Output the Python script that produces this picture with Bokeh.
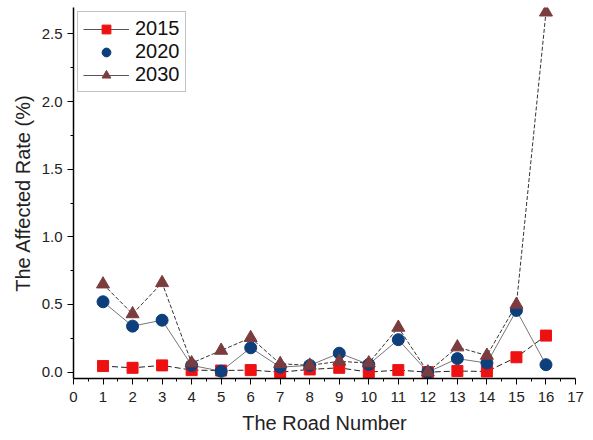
from bokeh.plotting import figure
from bokeh.models import ColumnDataSource, Legend, LegendItem, FixedTicker, Range1d, PrintfTickFormatter
from bokeh.embed import file_html
from bokeh.resources import INLINE

roads = list(range(1, 17))
rate_2015 = [0.045, 0.032, 0.05, 0.015, 0.012, 0.015, 0.0, 0.02, 0.032, 0.0, 0.015, 0.0, 0.008, 0.005, 0.11, 0.27]
rate_2020 = [0.52, 0.34, 0.384, 0.05, 0.007, 0.18, 0.037, 0.05, 0.14, 0.057, 0.24, 0.0, 0.10, 0.067, 0.456, 0.055]
rate_2030 = [0.65, 0.43, 0.66, 0.067, 0.16, 0.254, 0.062, 0.05, 0.08, 0.067, 0.33, 0.0, 0.185, 0.123, 0.50, 2.66]
x_ticks = list(range(0, 18))
y_ticks = [0.0, 0.5, 1.0, 1.5, 2.0, 2.5]

FONT = "Liberation Sans"
RED = "#ee1111"
BLUE = "#0d3f7c"
BROWN = "#7b3c3e"

p = figure(width=593, height=440, output_backend="svg", toolbar_location=None,
           x_range=Range1d(0, 17), y_range=Range1d(-0.047, 2.695),
           min_border_left=73, min_border_right=18, min_border_top=7, min_border_bottom=62)
p.outline_line_color = None
p.grid.grid_line_color = None
p.background_fill_color = "white"

src = ColumnDataSource(dict(x=roads, a=rate_2015, b=rate_2020, c=rate_2030))

p.line("x", "a", source=src, line_color="#222222", line_width=1, line_dash="6 3")
p.line("x", "b", source=src, line_color="#777777", line_width=1)
p.line("x", "c", source=src, line_color="#333333", line_width=1, line_dash="4 2")

r15 = p.scatter("x", "a", source=src, marker="square", size=11, fill_color=RED, line_color=RED)
r20 = p.scatter("x", "b", source=src, marker="circle", size=12, fill_color=BLUE, line_color=BLUE)
r30 = p.scatter("x", "c", source=src, marker="triangle", size=13, fill_color=BROWN, line_color=BROWN)

offscreen = ColumnDataSource(dict(x=[-10, -9], y=[-10, -10]))
l15 = p.line("x", "y", source=offscreen, line_color="#555555", line_width=1)
l30 = p.line("x", "y", source=offscreen, line_color="#555555", line_width=1)

legend = Legend(items=[
    LegendItem(label="2015", renderers=[l15, r15]),
    LegendItem(label="2020", renderers=[r20]),
    LegendItem(label="2030", renderers=[l30, r30]),
], location="top_left")
legend.label_text_font = FONT
legend.label_text_font_size = "20px"
legend.label_text_color = "#111111"
legend.border_line_color = "#888888"
legend.border_line_width = 1
legend.glyph_width = 46
legend.glyph_height = 22
legend.label_height = 22
legend.spacing = 0
legend.padding = 5
legend.margin = 4
legend.label_standoff = 6
p.add_layout(legend)

p.xaxis.ticker = FixedTicker(ticks=x_ticks, minor_ticks=[i + 0.5 for i in range(17)])
p.yaxis.ticker = FixedTicker(ticks=y_ticks, minor_ticks=[0.25, 0.75, 1.25, 1.75, 2.25])
p.yaxis.formatter = PrintfTickFormatter(format="%.1f")
p.xaxis.axis_label = "The Road Number"
p.yaxis.axis_label = "The Affected Rate (%)"
for ax in (p.xaxis, p.yaxis):
    ax.axis_label_text_font = FONT
    ax.axis_label_text_font_size = "20px"
    ax.axis_label_text_font_style = "normal"
    ax.major_label_text_font = FONT
    ax.major_label_text_font_size = "15px"
    ax.major_label_text_color = "#222222"
    ax.axis_label_text_color = "#222222"
    ax.axis_line_color = "black"
    ax.axis_line_width = 1.5
    ax.major_tick_line_color = "black"
    ax.minor_tick_line_color = "black"
    ax.major_tick_in = 0
    ax.major_tick_out = 6
    ax.minor_tick_in = 0
    ax.minor_tick_out = 3
p.xaxis.major_label_standoff = 7
p.xaxis.axis_label_standoff = 7
p.yaxis.major_label_standoff = 5
p.yaxis.axis_label_standoff = 5

open("out.html", "w").write(file_html(p, INLINE))
